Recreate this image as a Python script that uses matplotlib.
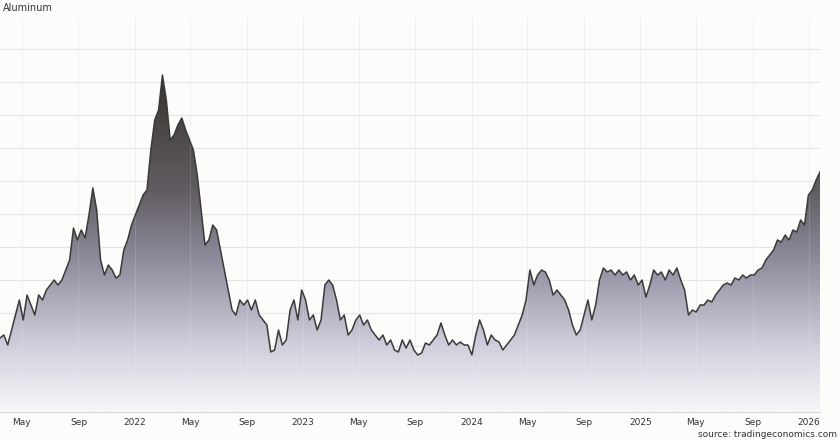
import numpy as np
import pandas as pd
import matplotlib.pyplot as plt
import matplotlib.dates as mdates
from matplotlib.colors import LinearSegmentedColormap

# weekly-ish aluminium price index (height above axis floor, arbitrary units)
values = [74, 77, 67, 82, 97, 112, 92, 117, 107, 97, 117, 112, 122, 127, 132, 127, 132, 142, 152, 184,
          172, 182, 174, 197, 224, 202, 152, 137, 147, 142, 134, 137, 162, 172, 187, 197, 207, 217, 222, 262,
          292, 302, 337, 312, 272, 277, 287, 294, 282, 272, 262, 237, 202, 167, 172, 187, 182, 162, 142, 122,
          102, 97, 112, 107, 112, 102, 112, 97, 92, 87, 60, 62, 82, 67, 72, 102, 112, 92, 122, 112,
          92, 97, 82, 92, 127, 132, 127, 112, 92, 97, 77, 82, 92, 97, 87, 92, 82, 77, 72, 77,
          67, 72, 62, 60, 72, 64, 72, 62, 57, 59, 69, 67, 72, 77, 89, 77, 67, 72, 67, 70,
          67, 67, 57, 77, 92, 82, 67, 77, 72, 70, 62, 67, 72, 77, 87, 97, 112, 142, 127, 137,
          142, 140, 132, 117, 122, 117, 112, 102, 87, 77, 82, 97, 112, 92, 107, 132, 144, 140, 142, 137,
          142, 137, 140, 132, 137, 127, 132, 115, 127, 142, 137, 140, 132, 142, 137, 144, 132, 122, 97, 102,
          100, 107, 107, 112, 110, 117, 122, 127, 129, 127, 134, 132, 137, 134, 137, 137, 142, 144, 152, 157,
          162, 172, 170, 177, 172, 182, 180, 192, 187, 217, 222, 232, 240]
dates = pd.date_range("2021-03-15", "2026-01-25", periods=len(values))

tick_dates = pd.to_datetime(["2021-05-01", "2021-09-01", "2022-01-01", "2022-05-01", "2022-09-01",
                             "2023-01-01", "2023-05-01", "2023-09-01", "2024-01-01", "2024-05-01",
                             "2024-09-01", "2025-01-01", "2025-05-01", "2025-09-01", "2026-01-01"])
tick_labels = ["May", "Sep", "2022", "May", "Sep", "2023", "May", "Sep", "2024",
               "May", "Sep", "2025", "May", "Sep", "2026"]

bg = "#fdfcfa"
fig = plt.figure(figsize=(8.4, 4.4), dpi=100, facecolor=bg)
ax = fig.add_axes([0, 28 / 440, 820 / 840, 394 / 440])
ax.set_facecolor(bg)
ymax = 394
ax.set_ylim(0, ymax)
x = mdates.date2num(dates)
ax.set_xlim(x[0], x[-1])

# gradient fill under the line
cmap = LinearSegmentedColormap.from_list("g", [(0, "#f8f7fa"), (0.2, "#cfcddb"),
                                               (0.45, "#8e8a9c"), (0.65, "#625d62"), (1, "#38322c")])
grad = np.linspace(0, 1, 256).reshape(-1, 1)
im = ax.imshow(grad, aspect="auto", cmap=cmap, origin="lower",
               extent=[x[0], x[-1], 0, 340], zorder=1)
poly = ax.fill_between(x, 0, values, color="none")
clip = poly.get_paths()[0]
im.set_clip_path(clip, transform=ax.transData)
ax.plot(x, values, color="#3a3a3a", lw=1.1, zorder=3)

for g in range(0, ymax + 1, 33):
    ax.axhline(g, color="#e6e4e2", lw=0.8, zorder=0.5)
for t in tick_dates:
    ax.axvline(mdates.date2num(t), color="#eeecea", lw=0.6, zorder=0.5)
    ax.axvline(mdates.date2num(t), color="#ffffff", lw=0.4, alpha=0.25, zorder=2)

ax.set_xticks(mdates.date2num(tick_dates))
ax.set_xticklabels(tick_labels, fontsize=6.5, color="#333333")
ax.tick_params(axis="x", length=0, pad=4)
ax.set_yticks([])
for s in ["top", "left", "right"]:
    ax.spines[s].set_visible(False)
ax.spines["bottom"].set_color("#d8d6d4")

fig.text(0.003, 1 - 8 / 440, "Aluminum", fontsize=7, color="#333333", va="center")
fig.text(0.997, 1 - 434 / 440, "source: tradingeconomics.com", fontsize=6.5,
         color="#333333", va="center", ha="right")

fig.savefig("out.png", dpi=100, facecolor=bg)
